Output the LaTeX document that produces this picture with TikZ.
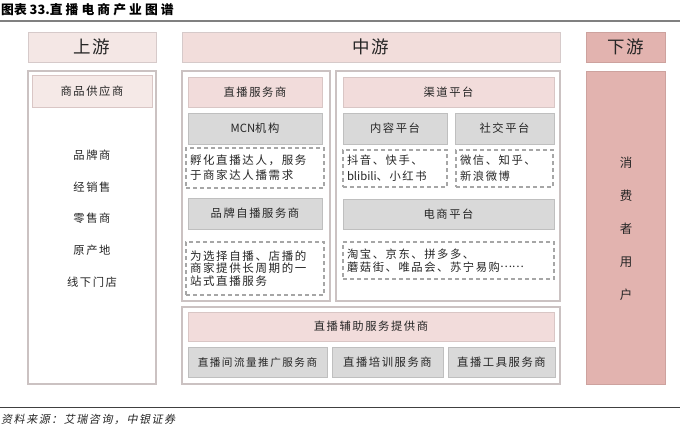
\documentclass[tikz,border=0pt]{standalone}
\usepackage{fontspec}
\setmainfont{Noto Sans CJK SC}
\newfontfamily\cjk{Noto Sans CJK SC}[LetterSpace=14]
\newfontfamily\plain{Noto Sans CJK SC}
\newfontfamily\cjkhead{Noto Sans CJK SC}[LetterSpace=8]
\newfontfamily\cjkslant{Noto Sans CJK SC}[FakeSlant=0.2, LetterSpace=14]
\newfontfamily\cjktitle{Noto Sans CJK SC}[LetterSpace=24]
\newcommand\midellipsis{\raisebox{0.33em}{\plain ……}}
\definecolor{txt}{HTML}{262626}
\definecolor{upfill}{HTML}{F4E7E5}
\definecolor{midfill}{HTML}{F2DDDB}
\definecolor{downfill}{HTML}{E2B3AF}
\definecolor{hdrline}{HTML}{D6CACA}
\definecolor{downline}{HTML}{CDA29E}
\definecolor{panelline}{HTML}{CBC2C2}
\definecolor{pinkfill}{HTML}{F2DCDB}
\definecolor{lightpink}{HTML}{F5E9E7}
\definecolor{pinkline}{HTML}{D9C6C5}
\definecolor{grayfill}{HTML}{D9D9D9}
\definecolor{grayline}{HTML}{BFBFBF}
\definecolor{dashline}{HTML}{A6A6A6}
\tikzset{
  every node/.style={text=txt, inner sep=0pt, font=\cjk\fontsize{11.3}{13}\selectfont},
  hdr/.style={draw=hdrline, line width=0.8pt, font=\cjkhead\fontsize{17.5}{19}\selectfont},
  panel/.style={draw=panelline, line width=1.3pt, fill=white},
  pinkbox/.style={draw=pinkline, fill=pinkfill, line width=0.8pt},
  graybox/.style={draw=grayline, fill=grayfill, line width=0.8pt},
  dashbox/.style={draw=dashline, dash pattern=on 4pt off 3pt, line width=1.1pt, align=left, inner xsep=4pt},
  item/.style={font=\cjk\fontsize{11.3}{13}\selectfont}
}
\begin{document}
\begin{tikzpicture}[x=1pt,y=-1pt]
\useasboundingbox (0,0) rectangle (680,429);
\fill[white] (0,0) rectangle (680,429);
% title and rules
\node[anchor=west, font=\bfseries\fontsize{12.8}{14}\selectfont, text=black] (title) at (1,9.5) {图表 33.{\cjktitle 直播电商产业图谱}};
\coordinate (tl) at (0,21); \coordinate (tr) at (680,21);
\draw[line width=2pt, color=gray] (tl) -- (tr);
\coordinate (bl) at (0,407); \coordinate (br) at (680,407);
\draw[line width=1pt, color=black!75] (bl) -- (br);
\node[anchor=west, font=\cjkslant\fontsize{11}{13}\selectfont] (src) at (1,419) {资料来源：艾瑞咨询，中银证券};
% headers
\node[hdr, fill=upfill, minimum width=128pt, minimum height=30pt] (up) at (92,47) {上游};
\node[hdr, fill=midfill, minimum width=378pt, minimum height=30pt] (mid) at (371,47) {中游};
\node[hdr, draw=downline, fill=downfill, minimum width=79pt, minimum height=30pt] (down) at (625.5,47) {下游};
% upstream panel
\node[panel, minimum width=128pt, minimum height=313pt] (uppanel) at (92,227.5) {};
\node[draw=pinkline, fill=lightpink, line width=0.6pt, minimum width=120pt, minimum height=32pt] (supplier) at (92,91) {商品供应商};
\node[item] (u1) at (92,155) {品牌商};
\node[item] (u2) at (92,187) {经销售};
\node[item] (u3) at (92,218.5) {零售商};
\node[item] (u4) at (92,250) {原产地};
\node[item] (u5) at (92,282) {线下门店};
% midstream left panel
\node[panel, minimum width=148pt, minimum height=230pt] (mlpanel) at (256,186) {};
\node[pinkbox, minimum width=134pt, minimum height=30pt] (svc) at (255,92) {直播服务商};
\node[graybox, minimum width=134pt, minimum height=31pt] (mcn) at (255,128.5) {{\plain MCN}机构};
\node[dashbox, minimum width=138pt, minimum height=40pt, text width=130pt, font=\cjk\fontsize{11.5}{15}\selectfont] (mcnd) at (255,168) {孵化直播达人，服务\\于商家达人播需求};
\node[graybox, minimum width=134pt, minimum height=31pt] (brand) at (255,213.5) {品牌自播服务商};
\node[dashbox, minimum width=138pt, minimum height=53pt, text width=130pt, font=\cjk\fontsize{11.5}{12.8}\selectfont] (brandd) at (255,268.5) {为选择自播、店播的\\商家提供长周期的一\\站式直播服务};
% midstream right panel
\node[panel, minimum width=224pt, minimum height=230pt] (mrpanel) at (448,186) {};
\node[pinkbox, minimum width=211pt, minimum height=30pt] (channel) at (448.5,92) {渠道平台};
\node[graybox, minimum width=104pt, minimum height=31pt] (content) at (395,128.5) {内容平台};
\node[graybox, minimum width=99pt, minimum height=31pt] (social) at (504.5,128.5) {社交平台};
\node[dashbox, minimum width=104pt, minimum height=37pt, text width=96pt, font=\cjk\fontsize{11.3}{16}\selectfont] (contentd) at (395,168.5) {抖音、快手、\\{\plain blibili}、小红书};
\node[dashbox, minimum width=97pt, minimum height=37pt, text width=89pt, font=\cjk\fontsize{11.3}{16}\selectfont] (sociald) at (504.5,168.5) {微信、知乎、\\新浪微博};
\node[graybox, minimum width=211pt, minimum height=30pt] (ecom) at (448.5,214) {电商平台};
\node[dashbox, minimum width=211pt, minimum height=37pt, text width=203pt, font=\cjk\fontsize{11.3}{12.8}\selectfont] (ecomd) at (448.5,260.5) {淘宝、京东、拼多多、\\蘑菇街、唯品会、苏宁易购\midellipsis};
% bottom panel
\node[panel, minimum width=378pt, minimum height=77pt] (botpanel) at (371,345.5) {};
\node[pinkbox, minimum width=366pt, minimum height=29pt] (aux) at (371,326.5) {直播辅助服务提供商};
\node[graybox, minimum width=139pt, minimum height=30pt, font=\cjk\fontsize{10.6}{12}\selectfont] (traffic) at (257.5,362) {直播间流量推广服务商};
\node[graybox, minimum width=111pt, minimum height=30pt] (train) at (387.5,362) {直播培训服务商};
\node[graybox, minimum width=107pt, minimum height=30pt] (tool) at (501.5,362) {直播工具服务商};
% downstream
\node[draw=downline, fill=downfill, line width=0.8pt, minimum width=79pt, minimum height=313pt] (consumer) at (625.5,227.5) {};
\node[align=center, font=\cjk\fontsize{12.5}{33}\selectfont] (consumertext) at (626,229) {消\\费\\者\\用\\户};
\end{tikzpicture}
\end{document}
